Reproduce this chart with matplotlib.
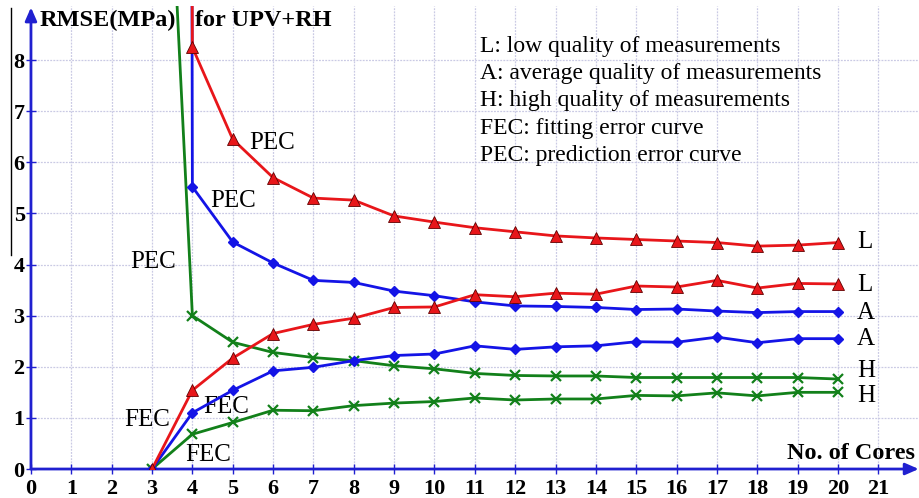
import matplotlib.pyplot as plt
from matplotlib.lines import Line2D

cores = list(range(3, 21))

# prediction error curves (PEC) - first point is far off the top of the chart
pec_low = [200, 8.25, 6.45, 5.70, 5.30, 5.26, 4.95, 4.83, 4.72, 4.64, 4.56, 4.52, 4.49, 4.46, 4.43, 4.36, 4.38, 4.43]
pec_avg = [400, 5.52, 4.44, 4.03, 3.69, 3.65, 3.48, 3.39, 3.27, 3.19, 3.18, 3.16, 3.12, 3.13, 3.09, 3.06, 3.08, 3.08]
pec_high = [19, 3.00, 2.48, 2.28, 2.18, 2.12, 2.02, 1.96, 1.87, 1.83, 1.82, 1.82, 1.79, 1.79, 1.79, 1.79, 1.79, 1.76]

# fitting error curves (FEC)
fec_low = [0, 1.54, 2.17, 2.65, 2.83, 2.95, 3.16, 3.17, 3.41, 3.37, 3.44, 3.42, 3.58, 3.56, 3.69, 3.54, 3.63, 3.62]
fec_avg = [0, 1.10, 1.54, 1.92, 1.99, 2.12, 2.22, 2.25, 2.41, 2.34, 2.39, 2.41, 2.49, 2.48, 2.58, 2.47, 2.55, 2.55]
fec_high = [0, 0.68, 0.91, 1.15, 1.14, 1.24, 1.29, 1.32, 1.39, 1.35, 1.37, 1.37, 1.44, 1.43, 1.49, 1.43, 1.50, 1.50]

legend_lines = ["L: low quality of measurements",
                "A: average quality of measurements",
                "H: high quality of measurements",
                "FEC: fitting error curve",
                "PEC: prediction error curve"]

RED = '#e8161a'
BLUE = '#1414e6'
GREEN = '#12801a'
AXIS = '#2020d0'
serif = 'Liberation Serif'

fig = plt.figure(figsize=(9.19, 4.98), dpi=100)
ax = fig.add_axes([0.0337, 0.0582, 0.966, 0.929])
ax.set_xlim(0, 22)
ax.set_ylim(0, 9.05)

# grid
for gx in range(1, 22):
    ax.axvline(gx, color='#cacae4', lw=0.9, ls=(0, (1.5, 1)), zorder=0)
for gy in range(1, 9):
    ax.axhline(gy, color='#cacae4', lw=0.9, ls=(0, (1.5, 1)), zorder=0)

# curves
ax.plot(cores, pec_high, color=GREEN, lw=2, marker='x', ms=7, mew=1.6, zorder=3)
ax.plot(cores, fec_high, color=GREEN, lw=2, marker='x', ms=7, mew=1.6, zorder=3)
ax.plot(cores, pec_avg, color=BLUE, lw=2, marker='D', ms=5, zorder=4)
ax.plot(cores, fec_avg, color=BLUE, lw=2, marker='D', ms=5, zorder=4)
ax.plot(cores, pec_low, color=RED, lw=2, marker='^', ms=8, mec='#600000', mew=0.6, zorder=5)
ax.plot(cores, fec_low, color=RED, lw=2, marker='^', ms=8, mec='#600000', mew=0.6, zorder=5)

# axes drawn as arrows
for s in ax.spines.values():
    s.set_visible(False)
ax.annotate('', xy=(22, 0), xytext=(0, 0), annotation_clip=False,
            arrowprops=dict(arrowstyle='-|>,head_length=0.8,head_width=0.35', color=AXIS, lw=2, shrinkA=0, shrinkB=0))
ax.annotate('', xy=(0, 9.03), xytext=(0, 0), annotation_clip=False,
            arrowprops=dict(arrowstyle='-|>,head_length=0.8,head_width=0.35', color=AXIS, lw=2, shrinkA=0, shrinkB=0))

ax.set_xticks(range(0, 22))
ax.set_yticks(range(0, 9))
ax.tick_params(axis='both', direction='inout', length=7, width=1, color=AXIS, labelsize=16)
ax.tick_params(axis='x', pad=4)
ax.tick_params(axis='y', pad=1)
for lab in ax.get_xticklabels() + ax.get_yticklabels():
    lab.set_fontfamily(serif)
    lab.set_fontweight('bold')

# titles on the axes
ax.text(0.2, 8.78, 'RMSE(MPa)', fontsize=17.5, fontweight='bold', family=serif, va='center', zorder=6)
ax.text(4.06, 8.78, 'for UPV+RH', fontsize=17.5, fontweight='bold', family=serif, va='center', zorder=6)
ax.text(21.9, 0.31, 'No. of Cores', fontsize=17.5, fontweight='bold', family=serif, ha='right', va='center')

# curve labels
curve_labels = [(5.40, 6.38, 'PEC'), (4.44, 5.24, 'PEC'), (2.45, 4.05, 'PEC'),
                (2.30, 0.96, 'FEC'), (4.26, 1.21, 'FEC'), (3.82, 0.27, 'FEC')]
for lx, ly, t in curve_labels:
    ax.text(lx, ly, t, fontsize=18, family=serif, va='center')

side_labels = [(4.44, 'L'), (3.60, 'L'), (3.05, 'A'), (2.54, 'A'), (1.92, 'H'), (1.43, 'H')]
for ly, t in side_labels:
    ax.text(20.47, ly, t, fontsize=18, family=serif, va='center')

# legend text block
for i, t in enumerate(legend_lines):
    ax.text(11.13, 8.26 - i * 0.53, t, fontsize=17, family=serif, va='center')

# thin black line on the left edge
fig.add_artist(Line2D([11 / 919, 11 / 919], [1 - 8 / 498, 1 - 255 / 498], color='black', lw=1))

fig.savefig('out.png', dpi=100)
